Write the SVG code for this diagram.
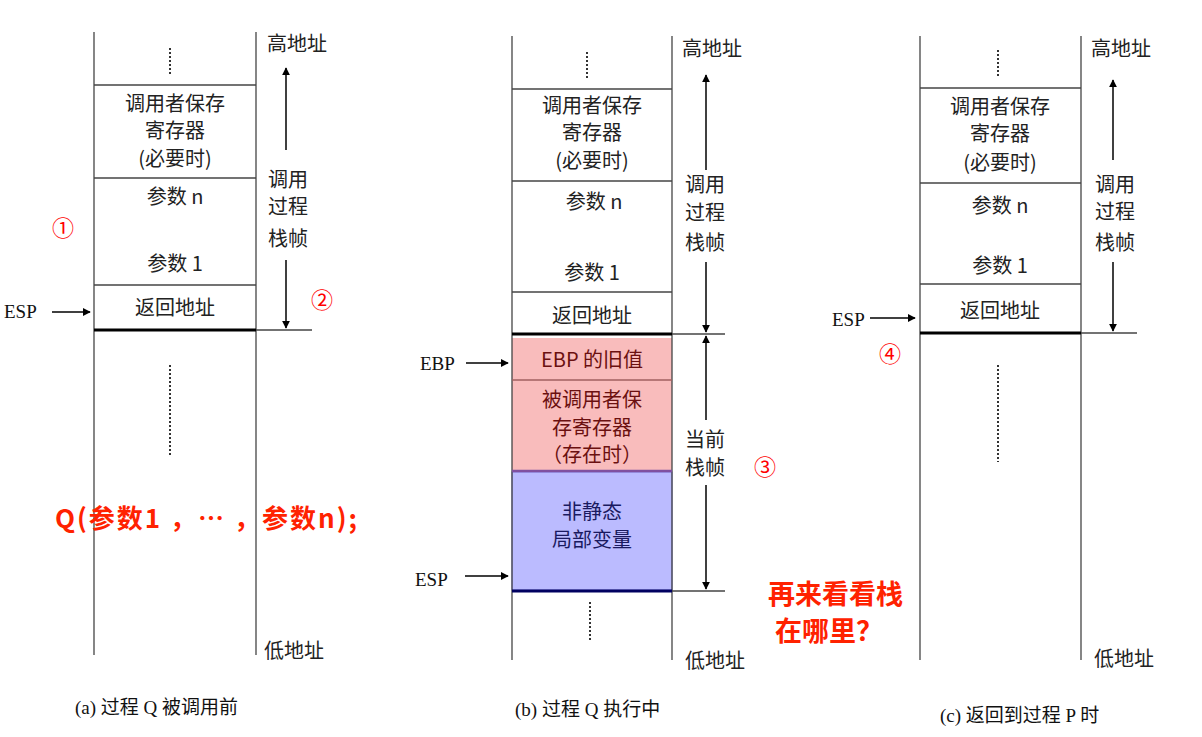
<svg xmlns="http://www.w3.org/2000/svg" width="1202" height="737" viewBox="0 0 1202 737">
<defs>
<marker id="ah" viewBox="0 0 10 10" refX="9" refY="5" markerWidth="8" markerHeight="8" markerUnits="userSpaceOnUse" orient="auto"><path d="M0,0L10,5L0,10z" fill="#000"/></marker>
<style>
.t{font-family:"Noto Sans CJK SC","Noto Sans",sans-serif;font-size:20px;fill:#222;text-anchor:middle}
.s{font-family:"Liberation Serif","Noto Sans CJK SC",serif;font-size:19px;fill:#111}
.r{font-family:"Noto Sans CJK SC",sans-serif;fill:#ff2200;font-weight:bold}
.c{font-family:"Noto Sans CJK SC",sans-serif;fill:#ff0000;font-size:22px}
.l{stroke:#444;stroke-width:1.3;fill:none}
.k{stroke:#000;stroke-width:3}
.a{stroke:#000;stroke-width:1.5;marker-end:url(#ah)}
.d{stroke:#333;stroke-width:2;stroke-dasharray:2 2}
</style>
</defs>
<rect width="1202" height="737" fill="#fff"/>
<g id="panel-a">
<line class="l" x1="94" y1="32" x2="94" y2="655"/><line class="l" x1="256" y1="32" x2="256" y2="655"/>
<line class="l" x1="94" y1="85" x2="256" y2="85"/><line class="l" x1="94" y1="178" x2="256" y2="178"/><line class="l" x1="94" y1="285" x2="256" y2="285"/>
<line class="k" x1="94" y1="330" x2="256" y2="330"/><line class="l" x1="256" y1="330" x2="312" y2="330"/>
<line class="d" x1="170" y1="48" x2="170" y2="75"/><line class="d" x1="170" y1="365" x2="170" y2="455"/>
<text class="t" x="175" y="111">调用者保存</text><text class="t" x="175" y="138">寄存器</text><text class="t" x="175" y="166">(必要时)</text>
<text class="t" x="175" y="204">参数 n</text><text class="t" x="175" y="271">参数 1</text><text class="t" x="175" y="315">返回地址</text>
<text class="s" x="4" y="318">ESP</text><line class="a" x1="52" y1="312" x2="90" y2="312"/>
<text class="t" x="297" y="51">高地址</text><line class="a" x1="286" y1="150" x2="286" y2="68"/>
<text class="t" x="288" y="187">调用</text><text class="t" x="288" y="214">过程</text><text class="t" x="288" y="246">栈帧</text>
<line class="a" x1="286" y1="260" x2="286" y2="328"/>
<text class="c" x="322" y="308" text-anchor="middle">②</text><text class="c" x="63" y="236" text-anchor="middle">①</text>
<text class="t" x="294" y="658">低地址</text>
<text class="s" x="75" y="714">(a)  过程 Q 被调用前</text>
<text class="r" x="55" y="528" font-size="26" textLength="302" lengthAdjust="spacing">Q(参数1 ，… ，参数n);</text>
</g>
<g id="panel-b">
<rect x="512" y="338" width="160" height="133" fill="#f9bcbc"/><rect x="512" y="472" width="160" height="118" fill="#bbbbff" stroke="#8080e0"/>
<line class="l" x1="512" y1="36" x2="512" y2="660"/><line class="l" x1="672" y1="36" x2="672" y2="660"/>
<line class="l" x1="512" y1="89" x2="672" y2="89"/><line class="l" x1="512" y1="181" x2="672" y2="181"/><line class="l" x1="512" y1="292" x2="672" y2="292"/>
<line class="k" x1="512" y1="334" x2="672" y2="334"/><line class="l" x1="672" y1="334" x2="725" y2="334"/>
<line stroke="#a06060" stroke-width="1.3" x1="512" y1="380" x2="672" y2="380"/><line stroke="#8050a0" stroke-width="2.5" x1="512" y1="471" x2="672" y2="471"/>
<line stroke="#000060" stroke-width="3" x1="512" y1="591" x2="672" y2="591"/><line class="l" x1="672" y1="591" x2="725" y2="591"/>
<line class="d" x1="587" y1="52" x2="587" y2="80"/><line class="d" x1="590" y1="602" x2="590" y2="640"/>
<text class="t" x="592" y="113">调用者保存</text><text class="t" x="592" y="140">寄存器</text><text class="t" x="592" y="168">(必要时)</text>
<text class="t" x="594" y="209">参数 n</text><text class="t" x="592" y="280">参数 1</text><text class="t" x="592" y="323">返回地址</text>
<text class="t" x="592" y="367" style="fill:#6b1010">EBP 的旧值</text>
<text class="t" x="592" y="407" style="fill:#6b1010">被调用者保</text><text class="t" x="592" y="435" style="fill:#6b1010">存寄存器</text><text class="t" x="592" y="462" style="fill:#6b1010">（存在时）</text>
<text class="t" x="592" y="519" style="fill:#1a1a60">非静态</text><text class="t" x="592" y="547" style="fill:#1a1a60">局部变量</text>
<text class="s" x="420" y="370">EBP</text><line class="a" x1="466" y1="363" x2="508" y2="363"/>
<text class="s" x="415" y="586">ESP</text><line class="a" x1="465" y1="576" x2="508" y2="576"/>
<text class="t" x="712" y="56">高地址</text><line class="a" x1="706" y1="170" x2="706" y2="75"/>
<text class="t" x="705" y="192">调用</text><text class="t" x="705" y="220">过程</text><text class="t" x="705" y="250">栈帧</text>
<line class="a" x1="706" y1="262" x2="706" y2="332"/>
<line class="a" x1="706" y1="420" x2="706" y2="336"/>
<text class="t" x="705" y="447">当前</text><text class="t" x="705" y="475">栈帧</text>
<line class="a" x1="706" y1="485" x2="706" y2="589"/>
<text class="c" x="765" y="475" text-anchor="middle">③</text>
<text class="t" x="715" y="668">低地址</text>
<text class="s" x="515" y="716">(b)  过程 Q 执行中</text>
<text class="r" x="768" y="604" font-size="27">再来看看栈</text><text class="r" x="775" y="641" font-size="27">在哪里？</text>
</g>
<g id="panel-c">
<line class="l" x1="920" y1="36" x2="920" y2="660"/><line class="l" x1="1081" y1="36" x2="1081" y2="660"/>
<line class="l" x1="920" y1="88" x2="1081" y2="88"/><line class="l" x1="920" y1="183" x2="1081" y2="183"/><line class="l" x1="920" y1="284" x2="1081" y2="284"/>
<line class="k" x1="920" y1="333" x2="1081" y2="333"/><line class="l" x1="1081" y1="333" x2="1137" y2="333"/>
<line class="d" x1="998" y1="50" x2="998" y2="78"/><line class="d" x1="998" y1="365" x2="998" y2="462"/>
<text class="t" x="1000" y="114">调用者保存</text><text class="t" x="1000" y="141">寄存器</text><text class="t" x="1000" y="170">(必要时)</text>
<text class="t" x="1000" y="213">参数 n</text><text class="t" x="1000" y="273">参数 1</text><text class="t" x="1000" y="318">返回地址</text>
<text class="s" x="832" y="326">ESP</text><line class="a" x1="870" y1="318" x2="915" y2="318"/>
<text class="c" x="890" y="362" text-anchor="middle">④</text>
<text class="t" x="1121" y="56">高地址</text><line class="a" x1="1113" y1="160" x2="1113" y2="80"/>
<text class="t" x="1115" y="192">调用</text><text class="t" x="1115" y="219">过程</text><text class="t" x="1115" y="250">栈帧</text>
<line class="a" x1="1113" y1="262" x2="1113" y2="331"/>
<text class="t" x="1124" y="666">低地址</text>
<text class="s" x="940" y="722">(c)  返回到过程 P 时</text>
</g>
</svg>
